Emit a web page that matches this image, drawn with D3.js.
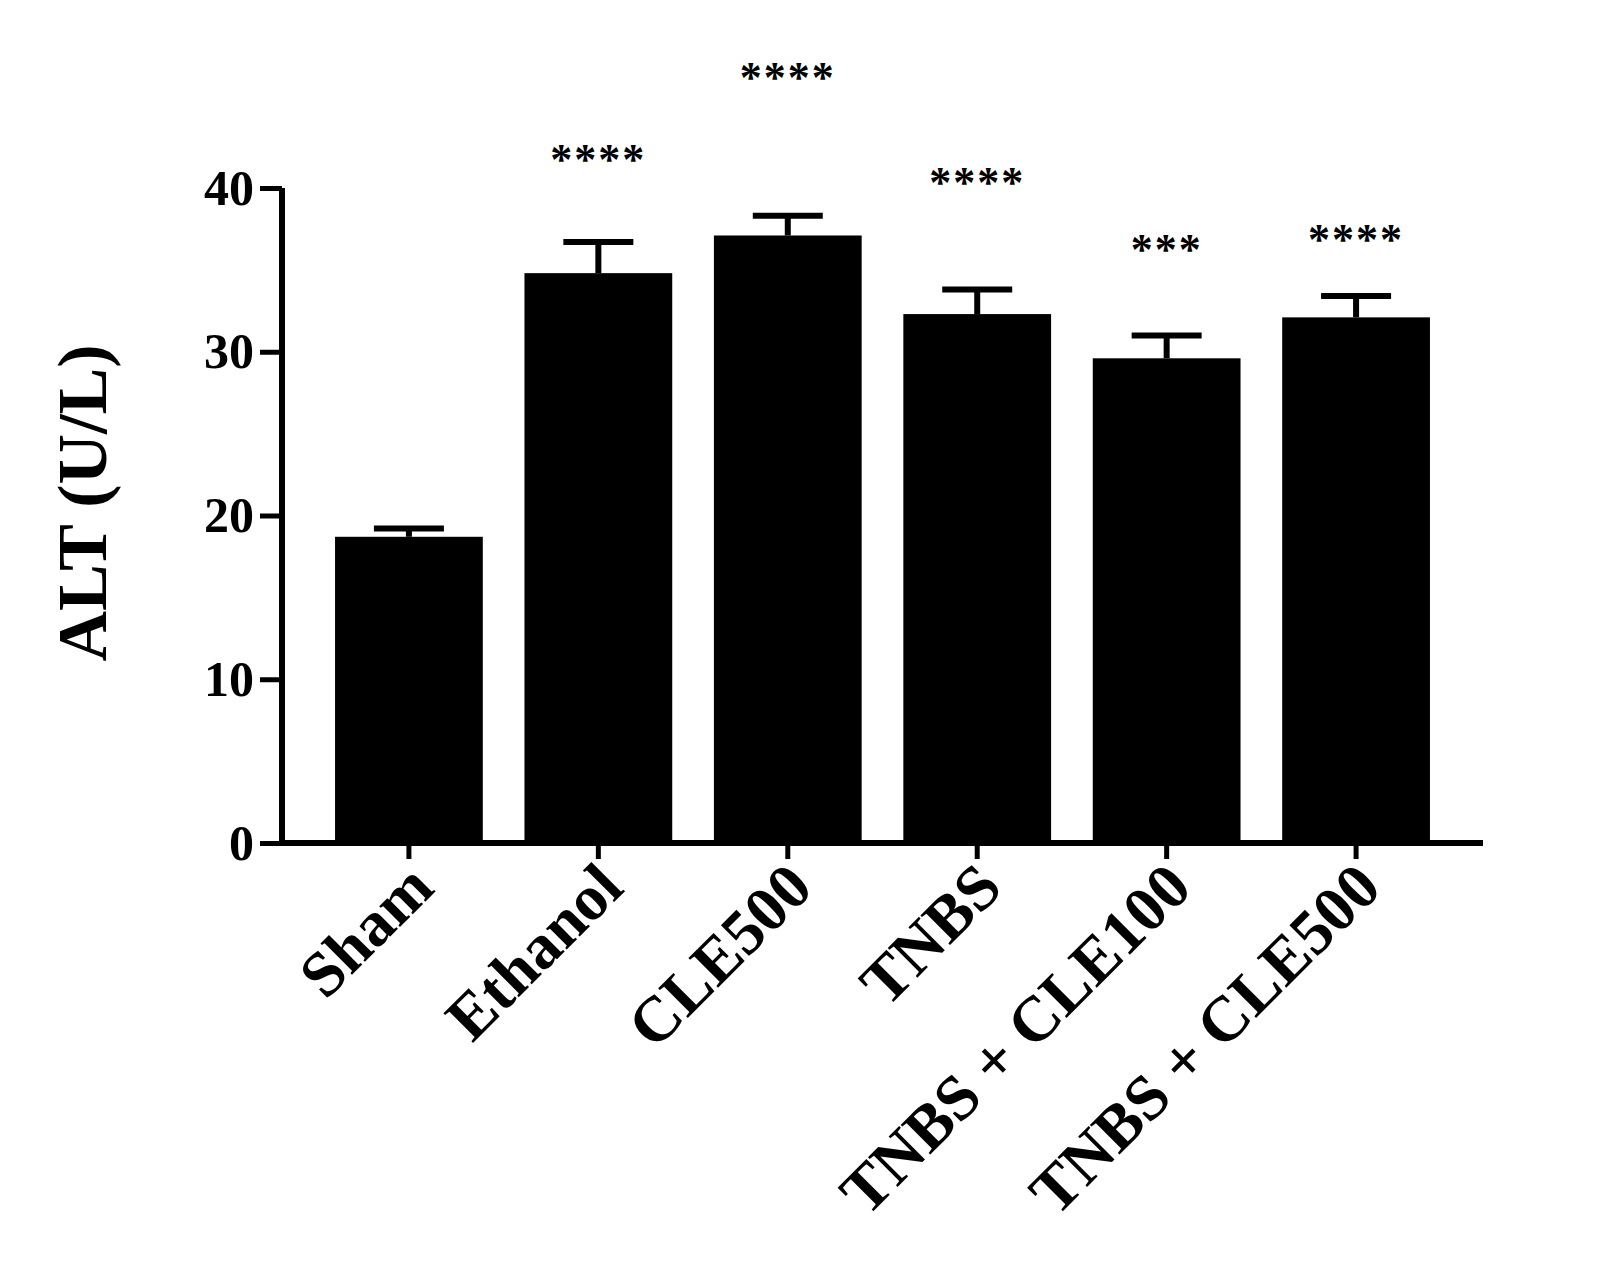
<!DOCTYPE html>
<html>
<head>
<meta charset="utf-8">
<script src="https://cdn.jsdelivr.net/npm/d3@7"></script>
<style>
  body { margin: 0; background: #fff; }
  svg { display: block; }
</style>
</head>
<body>
<div id="chart"></div>
<script>
// data
var groups = ["Sham", "Ethanol", "CLE500", "TNBS", "TNBS + CLE100", "TNBS + CLE500"];
var altMean = [18.7, 34.8, 37.1, 32.3, 29.6, 32.1];
var altErr = [0.5, 1.9, 1.2, 1.5, 1.4, 1.3];
var stars = ["", "****", "****", "****", "***", "****"];
var starLevel = [0, 42.0, 47.0, 40.6, 36.5, 37.1];
var yTicks = [0, 10, 20, 30, 40];

var full_width = 1604;
var full_height = 1266;
var fontFam = "'Liberation Serif', 'Times New Roman', serif";

var svg = d3.select("#chart")
  .append("svg")
    .attr("width", full_width)
    .attr("height", full_height);

svg.append("rect")
  .attr("width", full_width)
  .attr("height", full_height)
  .attr("fill", "#fff");

var x = d3.scaleBand()
  .domain(groups)
  .range([282, 1483])
  .paddingInner(0.22)
  .paddingOuter(0.28);

var y = d3.scaleLinear()
  .domain([0, 40])
  .range([843, 188]);

// bars
svg.selectAll("rect.bar")
  .data(groups)
  .enter()
  .append("rect")
    .attr("class", "bar")
    .attr("x", d => x(d))
    .attr("width", x.bandwidth())
    .attr("y", (d, i) => y(altMean[i]))
    .attr("height", (d, i) => y(0) - y(altMean[i]))
    .attr("fill", "#000");

// error bars (upper only)
var capW = 70;
groups.forEach(function(g, i) {
  var cx = x(g) + x.bandwidth() / 2;
  svg.append("line")
    .attr("x1", cx).attr("x2", cx)
    .attr("y1", y(altMean[i])).attr("y2", y(altMean[i] + altErr[i]))
    .attr("stroke", "#000").attr("stroke-width", 6);
  svg.append("line")
    .attr("x1", cx - capW / 2).attr("x2", cx + capW / 2)
    .attr("y1", y(altMean[i] + altErr[i])).attr("y2", y(altMean[i] + altErr[i]))
    .attr("stroke", "#000").attr("stroke-width", 6);
});

// significance stars
svg.selectAll("text.star")
  .data(groups)
  .enter()
  .append("text")
    .attr("class", "star")
    .attr("x", d => x(d) + x.bandwidth() / 2)
    .attr("y", (d, i) => y(starLevel[i]))
    .attr("dy", "0.42em")
    .attr("text-anchor", "middle")
    .style("font-family", fontFam)
    .style("font-weight", "bold")
    .style("font-size", "44px")
    .style("letter-spacing", "2px")
    .text((d, i) => stars[i]);

// y axis
var yAxis = svg.append("g")
  .attr("transform", "translate(282,0)")
  .call(d3.axisLeft(y).tickValues(yTicks).tickSize(22).tickPadding(6));
yAxis.select(".domain")
  .attr("d", "M0," + y(0) + "V" + y(40))
  .attr("stroke-width", 6);
yAxis.selectAll(".tick line").attr("stroke-width", 5);
yAxis.selectAll(".tick text")
  .style("font-family", fontFam)
  .style("font-weight", "bold")
  .style("font-size", "50px")
  .attr("fill", "#000");

// x axis
var xAxis = svg.append("g")
  .attr("transform", "translate(0," + y(0) + ")")
  .call(d3.axisBottom(x).tickSize(16).tickSizeOuter(0));
xAxis.select(".domain")
  .attr("d", "M282,0H1483")
  .attr("stroke-width", 6);
xAxis.selectAll(".tick line").attr("stroke-width", 5);
xAxis.selectAll(".tick text")
  .style("font-family", fontFam)
  .style("font-weight", "bold")
  .style("font-size", "64px")
  .attr("fill", "#000")
  .attr("text-anchor", "end")
  .attr("dy", "0")
  .attr("transform", "translate(14,34) rotate(-45)");

// y axis label
svg.append("text")
  .attr("transform", "translate(106,503) rotate(-90)")
  .attr("text-anchor", "middle")
  .style("font-family", fontFam)
  .style("font-weight", "bold")
  .style("font-size", "70px")
  .text("ALT (U/L)");
</script>
</body>
</html>
